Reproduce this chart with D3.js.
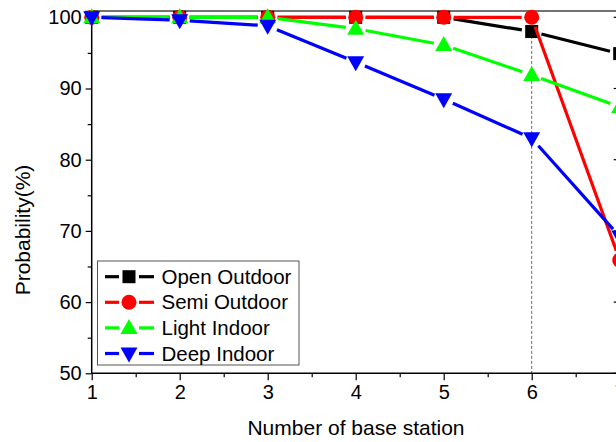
<!DOCTYPE html>
<html>
<head>
<meta charset="utf-8">
<script src="https://cdn.jsdelivr.net/npm/d3@7"></script>
<style>
  html, body { margin: 0; padding: 0; background: #fff; }
  svg { display: block; font-family: "Liberation Sans", Arial, sans-serif; }
</style>
</head>
<body>
<div id="chart"></div>
<script>
// ---- data ----
const stations = [1, 2, 3, 4, 5, 6, 7];
const openOutdoor = [100, 100, 100, 100, 100, 98.0, 94.9];
const semiOutdoor = [100, 100, 100, 100, 100, 100, 65.9];
const lightIndoor = [100, 100, 100, 98.4, 96.1, 91.9, 87.4];
const deepIndoor  = [100, 99.6, 98.8, 93.7, 88.5, 83.0, 69.2];

const seriesNames = ["Open Outdoor", "Semi Outdoor", "Light Indoor", "Deep Indoor"];
const seriesColors = ["#000000", "#ff0000", "#00ff00", "#0000ff"];
const seriesShapes = ["square", "circle", "up", "down"];
const seriesValues = [openOutdoor, semiOutdoor, lightIndoor, deepIndoor];

const yTicks = [50, 60, 70, 80, 90, 100];
const yMinor = [55, 65, 75, 85, 95];
const xTicks = [1, 2, 3, 4, 5, 6, 7];
const xMinor = [1.5, 2.5, 3.5, 4.5, 5.5, 6.5];
const markedStation = 6;

// ---- layout ----
const W = 616, H = 442;
const x = d3.scaleLinear().domain([1, 7]).range([91.7, 619.7]);
const y = d3.scaleLinear().domain([50, 100]).range([373.3, 17.3]);
const yTop = y(100.9);

const svg = d3.select('#chart').append('svg')
  .attr('width', W).attr('height', H);

// dashed marker line at 6 stations
svg.append('line')
  .attr('x1', x(markedStation)).attr('x2', x(markedStation))
  .attr('y1', yTop).attr('y2', y(50))
  .attr('stroke', '#444').attr('stroke-width', 0.8)
  .attr('stroke-dasharray', '3,2');

// frame (top + right, right one sits just past the window edge)
const frame = svg.append('g').attr('stroke', '#000').attr('fill', 'none');
frame.append('line').attr('x1', x(1)).attr('x2', x(7)).attr('y1', yTop).attr('y2', yTop)
  .attr('stroke', '#444').attr('stroke-width', 1.5);
frame.append('line').attr('x1', x(7)).attr('x2', x(7)).attr('y1', yTop).attr('y2', y(50))
  .attr('stroke-width', 1.5);
frame.selectAll('line.rt').data(yTicks).join('line')
  .attr('x1', x(7) - 6).attr('x2', x(7))
  .attr('y1', d => y(d)).attr('y2', d => y(d)).attr('stroke-width', 1.2);

// axes
const yAxis = svg.append('g').attr('transform', `translate(${x(1)},0)`)
  .call(d3.axisLeft(y).tickValues(yTicks).tickSize(6).tickPadding(4));
svg.append('g').attr('transform', `translate(${x(1)},0)`)
  .call(d3.axisLeft(y).tickValues(yMinor).tickSize(4).tickFormat(''))
  .select('.domain').remove();
const xAxis = svg.append('g').attr('transform', `translate(0,${y(50)})`)
  .call(d3.axisBottom(x).tickValues(xTicks).tickFormat(d3.format('d')).tickSize(7).tickPadding(5));
svg.append('g').attr('transform', `translate(0,${y(50)})`)
  .call(d3.axisBottom(x).tickValues(xMinor).tickSize(4).tickFormat(''))
  .select('.domain').remove();

yAxis.select('.domain').attr('stroke-width', 1.5).attr('d', `M0,${yTop}V${y(50)}`);
xAxis.select('.domain').attr('stroke-width', 1.5).attr('d', `M${x(1)},0H${x(7)}`);
svg.selectAll('.tick line').attr('stroke-width', 1.2);
svg.selectAll('.tick text').attr('font-size', 20).attr('fill', '#000')
  .attr('font-family', '"Liberation Sans", Arial, sans-serif');

// titles
svg.append('text').attr('x', 356).attr('y', 435).attr('text-anchor', 'middle')
  .attr('font-size', 21).text('Number of base station');
svg.append('text').attr('transform', `translate(30,230) rotate(-90)`)
  .attr('text-anchor', 'middle').attr('font-size', 21).text('Probability(%)');

// marker drawing
function marker(g, shape, color, cx, cy) {
  if (shape === 'square') {
    g.append('rect').attr('x', cx - 6.5).attr('y', cy - 6.5).attr('width', 13).attr('height', 13).attr('fill', color);
  } else if (shape === 'circle') {
    g.append('circle').attr('cx', cx).attr('cy', cy).attr('r', 7.5).attr('fill', color);
  } else if (shape === 'up') {
    g.append('path').attr('d', `M${cx},${cy - 9}L${cx + 8.5},${cy + 6}L${cx - 8.5},${cy + 6}Z`).attr('fill', color);
  } else {
    g.append('path').attr('d', `M${cx},${cy + 9}L${cx + 8.5},${cy - 6}L${cx - 8.5},${cy - 6}Z`).attr('fill', color);
  }
}

// shortened segment leaving a gap at each marker
function gapSegment(g, color, x1, y1, x2, y2, gap) {
  const dx = x2 - x1, dy = y2 - y1, len = Math.hypot(dx, dy);
  if (len <= 2 * gap) return;
  const ux = dx / len, uy = dy / len;
  g.append('line')
    .attr('x1', x1 + ux * gap).attr('y1', y1 + uy * gap)
    .attr('x2', x2 - ux * gap).attr('y2', y2 - uy * gap)
    .attr('stroke', color).attr('stroke-width', 3.2);
}

const plot = svg.append('g');
seriesValues.forEach((vals, i) => {
  const g = plot.append('g');
  const pts = stations.map((s, j) => [x(s), y(vals[j])]);
  for (let j = 0; j < pts.length - 1; j++) {
    gapSegment(g, seriesColors[i], pts[j][0], pts[j][1], pts[j + 1][0], pts[j + 1][1], 10);
  }
  pts.forEach(p => marker(g, seriesShapes[i], seriesColors[i], p[0], p[1]));
});

// legend
const leg = svg.append('g');
leg.append('rect').attr('x', 97.5).attr('y', 261).attr('width', 201.5).attr('height', 104)
  .attr('fill', '#fff').attr('stroke', '#555').attr('stroke-width', 1);
seriesNames.forEach((name, i) => {
  const cy = 276.7 + i * 25.6;
  leg.append('line').attr('x1', 105).attr('x2', 119).attr('y1', cy).attr('y2', cy)
    .attr('stroke', seriesColors[i]).attr('stroke-width', 3.2);
  leg.append('line').attr('x1', 139).attr('x2', 154).attr('y1', cy).attr('y2', cy)
    .attr('stroke', seriesColors[i]).attr('stroke-width', 3.2);
  marker(leg, seriesShapes[i], seriesColors[i], 129, cy);
  leg.append('text').attr('x', 161.5).attr('y', cy + 7).attr('font-size', 20.5).text(name);
});
</script>
</body>
</html>
